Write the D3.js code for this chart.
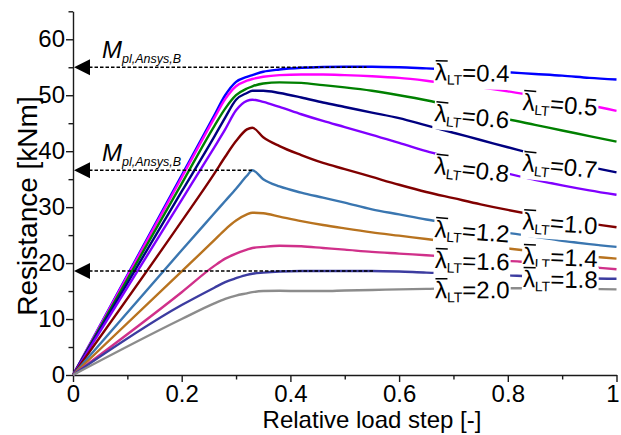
<!DOCTYPE html>
<html><head><meta charset="utf-8">
<script src="https://cdn.jsdelivr.net/npm/d3@7"></script>
<style>body{margin:0;background:#fff} svg{display:block;font-family:"Liberation Sans",Arial,sans-serif}</style>
</head><body><svg id="c" width="621" height="435"></svg>
<script>
// ---- data ----
const loadSteps = [0,0.2,0.26,0.28,0.30,0.32,0.33,0.35,0.38,0.42,0.46,0.5,0.55,0.6,0.65,0.7,0.75,0.8,0.85,0.9,0.95,1.0];
const r04 = [0,35.7,46.4,50.0,52.4,53.3,53.6,54.2,54.6,54.9,55.05,55.1,55.1,55.0,54.8,54.6,54.4,54.1,53.8,53.5,53.1,52.8];
const r05 = [0,35.3,45.9,49.3,51.6,52.6,52.9,53.3,53.6,53.7,53.7,53.6,53.4,53.1,52.6,52.0,51.4,50.7,49.9,49.1,48.2,47.2];
const r06 = [0,34.2,44.5,47.6,50.0,51.2,51.6,52.1,52.3,52.2,51.8,51.4,50.8,50.0,49.1,48.0,46.8,45.7,44.7,43.7,42.7,41.7];
const r07 = [0,32.8,42.6,46.0,49.2,50.4,50.8,50.8,50.4,49.6,48.7,47.9,46.9,45.9,44.6,43.3,42.0,40.7,39.4,38.2,37.2,36.2];
const r08 = [0,31.3,40.7,43.9,47.3,49.0,49.2,48.8,47.9,46.6,45.4,44.3,42.9,41.5,40.0,38.7,37.4,36.0,34.9,33.9,33.0,32.2];
const r10 = [0,27.5,36.0,39.0,41.8,43.9,44.2,42.5,40.9,39.3,37.9,36.8,35.4,34.0,32.7,31.6,30.5,29.5,28.6,27.8,27.1,26.4];
const r12 = [0,22.3,28.9,31.1,33.3,35.6,36.6,35.0,33.7,32.6,31.7,30.8,29.6,28.7,27.8,27.0,26.2,25.4,24.7,24.0,23.4,22.9];
const r14 = [0,18.5,24.1,26.0,27.6,28.7,29.0,28.9,28.3,27.5,26.8,26.2,25.5,24.9,24.3,23.7,23.1,22.6,22.1,21.6,21.2,20.8];
const r16 = [0,14.8,19.5,20.8,21.7,22.4,22.7,22.9,23.1,23.0,22.7,22.4,22.0,21.7,21.4,21.1,20.8,20.4,20.1,19.7,19.3,18.9];
const r18 = [0,12.5,15.6,16.6,17.3,17.9,18.1,18.3,18.5,18.6,18.6,18.6,18.6,18.5,18.3,18.2,18.0,17.8,17.6,17.5,17.3,17.2];
const r20 = [0,10.0,12.8,13.6,14.2,14.6,14.8,15.0,15.05,15.0,15.0,15.1,15.2,15.3,15.4,15.5,15.5,15.5,15.5,15.4,15.4,15.3];
const lambdaValues = ["0.4","0.5","0.6","0.7","0.8","1.0","1.2","1.4","1.6","1.8","2.0"];
const seriesValues = [r04,r05,r06,r07,r08,r10,r12,r14,r16,r18,r20];
const seriesColors = ["#0000ff","#ff00ff","#008000","#000080","#8000ff","#800000","#3a76b0","#b8731f","#d0308a","#3c3ca0","#8c8c8c"];
const labelSteps = [0.666,0.828,0.666,0.828,0.666,0.828,0.666,0.828,0.666,0.828,0.666];
const xTicks = [0,0.2,0.4,0.6,0.8,1];
const xMinor = [0.1,0.3,0.5,0.7,0.9];
const yTicks = [0,10,20,30,40,50,60];
const yMinor = [5,15,25,35,45,55,65];
const plateauValues = [55.0,36.6,18.6];
const plateauEnds = [0.54,0.329,0.552];
const plateauLabelled = [true,true,false];

// ---- layout ----
const svg = d3.select("#c");
const x = d3.scaleLinear().domain([0,1]).range([73,616.5]);
const y = d3.scaleLinear().domain([0,65]).range([375,11.3]);
const font = '"Liberation Sans",Arial,sans-serif';

// axes
const axStroke = "#1a1a1a";
const gx = svg.append("g").attr("transform","translate(0,375)")
  .call(d3.axisBottom(x).tickValues(xTicks).tickSize(7).tickPadding(3).tickSizeOuter(0)
    .tickFormat(d => d===0?"0":d===1?"1":d3.format(".1f")(d)));
gx.selectAll(".tick text").filter(d => d===1).attr("x",-4);
svg.append("g").attr("transform","translate(0,375)")
  .call(d3.axisBottom(x).tickValues(xMinor).tickSize(4.5).tickFormat("").tickSizeOuter(0))
  .select(".domain").remove();
const gy = svg.append("g").attr("transform","translate(73,0)")
  .call(d3.axisLeft(y).tickValues(yTicks).tickSize(7).tickPadding(1).tickSizeOuter(0));
svg.append("g").attr("transform","translate(73,0)")
  .call(d3.axisLeft(y).tickValues(yMinor).tickSize(4.5).tickFormat("").tickSizeOuter(0))
  .select(".domain").remove();
svg.selectAll(".domain, .tick line").attr("stroke",axStroke).attr("stroke-width",1.4);
svg.selectAll(".tick text").attr("font-size",24).attr("font-family",font).attr("fill","#000");

// axis titles
svg.append("text").attr("x",372).attr("y",428).attr("text-anchor","middle")
  .attr("font-size",24).text("Relative load step [-]");
svg.append("text").attr("transform","translate(37,206) rotate(-90)").attr("text-anchor","middle")
  .attr("font-size",28).text("Resistance [kNm]");

// curves
const line = d3.line().x((d,i)=>x(loadSteps[i])).y(d=>y(d)).curve(d3.curveMonotoneX);
seriesValues.forEach((vals,k)=>{
  svg.append("path").attr("d",line(vals)).attr("fill","none")
    .attr("stroke",seriesColors[k]).attr("stroke-width",2.4).attr("stroke-linejoin","round");
});

// plateau reference lines
plateauValues.forEach((v,k)=>{
  const py = y(v);
  svg.append("line").attr("x1",x(0)+16).attr("x2",x(plateauEnds[k])).attr("y1",py).attr("y2",py)
    .attr("stroke","#000").attr("stroke-width",1.6).attr("stroke-dasharray","3.5,2");
  svg.append("path").attr("d",`M${x(0)+1},${py} L${x(0)+17},${py-8} L${x(0)+17},${py+8} Z`).attr("fill","#000");
  if (plateauLabelled[k]) {
    const t = svg.append("text").attr("x",x(0)+29).attr("y",py-9).attr("font-style","italic");
    t.append("tspan").attr("font-size",24).text("M");
    t.append("tspan").attr("font-size",12.5).attr("dy",5).text("pl,Ansys,B");
  }
});

// inline labels
function interp(vals, v){
  const i = Math.min(Math.max(d3.bisectRight(loadSteps,v),1),loadSteps.length-1);
  const a = loadSteps[i-1], b = loadSteps[i];
  return vals[i-1] + (vals[i]-vals[i-1])*(v-a)/(b-a);
}
lambdaValues.forEach((lab,k)=>{
  const vals = seriesValues[k];
  const g = svg.append("g");
  const bg = g.append("rect").attr("fill","#fff");
  const t = g.append("text").attr("y",10).attr("fill","#000");
  const l = t.append("tspan").attr("font-size",24).text("λ");
  t.append("tspan").attr("font-size",14).attr("dy",4).text("LT");
  t.append("tspan").attr("font-size",24).attr("dy",-4).text("="+lab);
  const w = t.node().getComputedTextLength();
  const lw = l.node().getComputedTextLength();
  g.append("line").attr("x1",0.5).attr("x2",lw+0.5).attr("y1",-9.5).attr("y2",-9.5)
    .attr("stroke","#000").attr("stroke-width",1.5);
  bg.attr("x",-1).attr("y",-10.5).attr("width",w+2).attr("height",28.5);
  const x0 = labelSteps[k];
  const x1 = x.invert(x(x0)+w);
  const px0 = x(x0), py0 = y(interp(vals,x0));
  const pyc = y(interp(vals,(x0+x1)/2));
  const py1 = y(interp(vals,x1));
  const ang = Math.atan2(py1-py0, w)*180/Math.PI*0.45;
  g.attr("transform",`translate(${px0},${pyc}) rotate(${ang})`);
});
</script></body></html>
